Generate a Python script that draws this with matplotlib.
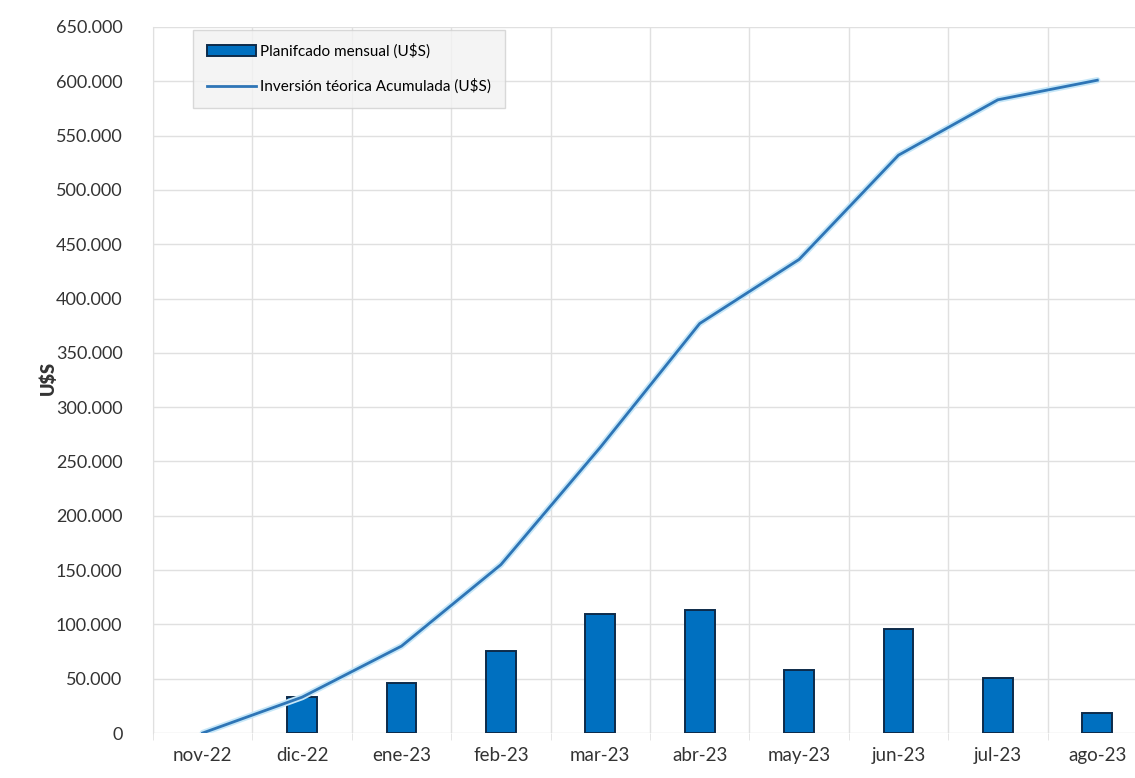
import matplotlib
matplotlib.use("Agg")
import matplotlib.pyplot as plt
from matplotlib.ticker import FuncFormatter

plt.rcParams['font.family'] = ['Lato', 'DejaVu Sans']

# data
months = ["nov-22", "dic-22", "ene-23", "feb-23", "mar-23", "abr-23",
          "may-23", "jun-23", "jul-23", "ago-23"]
monthly = [0, 33000, 46000, 75500, 109500, 113000, 58000, 96000, 51000, 18500]
cumulative = [0, 33000, 80000, 155000, 263000, 377000, 436000, 532000, 583000, 601000]

fig = plt.figure(figsize=(11.35, 7.78), dpi=100)
ax = fig.add_axes([153 / 1135, 1 - 733 / 778, (1147 - 153) / 1135, (733 - 27) / 778])

x = list(range(len(months)))
# zero-height bars would still show an edge line, so skip them
bx = [i for i in x if monthly[i] > 0]
bv = [monthly[i] for i in bx]
bars = ax.bar(bx, bv, width=0.30, color="#0070c0", edgecolor="#0d2b4a",
              linewidth=1.4, zorder=3, label="Planifcado mensual (U$S)")
ax.plot(x, cumulative, color="#c6e7f8", linewidth=4.5, zorder=4, solid_capstyle="round")
line, = ax.plot(x, cumulative, color="#2e75b6", linewidth=2.0, zorder=5,
                label="Inversión téorica Acumulada (U$S)")

ax.set_xlim(-0.5, len(months) - 0.5)
ax.set_ylim(0, 650000)
ax.set_yticks(range(0, 650001, 50000))
ax.yaxis.set_major_formatter(FuncFormatter(lambda v, p: f"{int(v):,}".replace(",", ".")))
ax.set_xticks(x)
ax.set_xticklabels(months)
ax.set_xticks([i + 0.5 for i in range(-1, len(months))], minor=True)

ax.grid(True, axis="y", color="#e0e0e0", linewidth=1, zorder=0)
ax.grid(True, axis="x", which="minor", color="#e0e0e0", linewidth=1, zorder=0)
for s in ["top", "right", "bottom"]:
    ax.spines[s].set_visible(False)
ax.spines["left"].set_color("#e0e0e0")
ax.tick_params(axis="y", length=0, pad=22, labelsize=13, labelcolor="#333333")
ax.tick_params(axis="x", which="major", length=0, pad=10, labelsize=13.5, labelcolor="#333333")
ax.tick_params(axis="x", which="minor", length=5, color="#e0e0e0")

fig.text(48 / 1135, 1 - 378 / 778, "U$S", rotation=90, fontsize=13,
         fontweight="heavy", ha="center", va="center", color="#333333")

leg = ax.legend([bars, line], [bars.get_label(), line.get_label()],
                loc="upper left", bbox_to_anchor=(40 / 994, 1 - 3 / 706),
                borderaxespad=0, fontsize=11, frameon=True, fancybox=False,
                borderpad=0.9, labelspacing=1.3, handlelength=3.2, handletextpad=0.3)
leg.get_frame().set_facecolor("#f2f2f2")
leg.get_frame().set_edgecolor("#d0d0d0")

fig.savefig("out.png", dpi=100)
